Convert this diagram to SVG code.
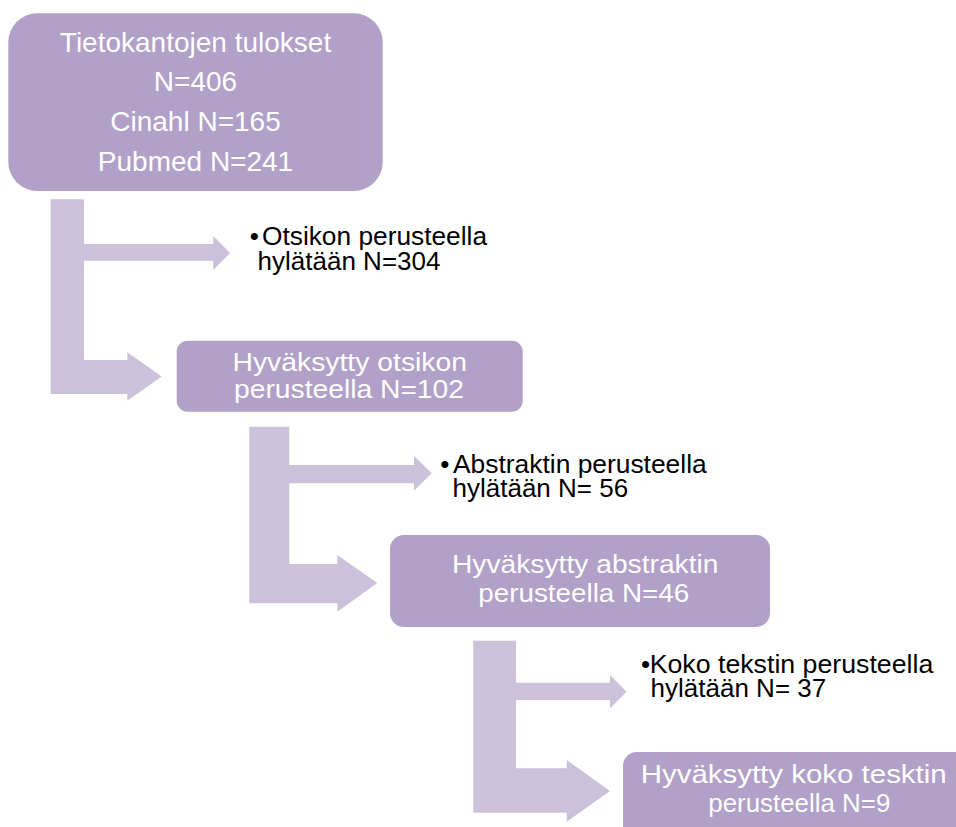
<svg xmlns="http://www.w3.org/2000/svg" width="956" height="827" viewBox="0 0 956 827">
<style>
.box{fill:#B1A0C7}
.arr{fill:#CCC1DA}
.bt{font-family:"Liberation Sans",Arial,sans-serif;fill:#FFFFFF;text-anchor:middle}
.bs{font-family:"Liberation Sans",Arial,sans-serif;fill:#FFFFFF;font-size:25px}
.lt{font-family:"Liberation Sans",Arial,sans-serif;fill:#000000;font-size:26px}
</style>
<rect width="956" height="827" fill="#FFFFFF"/>
<g id="connectors">
<path class="arr" d="M50.7,199.3 H84 V244 H213.3 V236 L230,253 L213.3,270 V260.7 H84 V360 H127.3 V352.3 L161.7,376.5 L127.3,400.7 V394 H50.7 Z"/>
<path class="arr" d="M249.3,426.7 H289.3 V465 H414 V456 L431.7,473.3 L414,490.7 V483.3 H289.3 V564 H337.3 V555 L377.3,583 L337.3,611.7 V603.3 H249.3 Z"/>
<path class="arr" d="M473.3,640.7 H516 V682.7 H610 V675 L626.7,691.7 L610,708.3 V700 H516 V768.3 H566.7 V760 L610,791 L566.7,821.7 V812.7 H473.3 Z"/>
</g>
<g id="node1">
<rect class="box" x="8.3" y="13.3" width="374.4" height="177.7" rx="29" ry="29"/>
<text class="bt" font-size="28" x="195.5" y="51.7">Tietokantojen tulokset</text>
<text class="bt" font-size="28" x="195.5" y="91.3">N=406</text>
<text class="bt" font-size="28" x="195.5" y="131">Cinahl N=165</text>
<text class="bt" font-size="28" x="195.5" y="170.7">Pubmed N=241</text>
</g>
<g id="node2">
<text class="lt"><tspan x="249.7" y="245">•</tspan><tspan x="262" y="245" textLength="225" lengthAdjust="spacingAndGlyphs">Otsikon perusteella</tspan><tspan x="257.6" y="270">hylätään N=304</tspan></text>
</g>
<g id="node3">
<rect class="box" x="176.7" y="340.7" width="346" height="71" rx="11" ry="11"/>
<text class="bs" x="232.5" y="370.7" textLength="234.5" lengthAdjust="spacingAndGlyphs">Hyväksytty otsikon</text>
<text class="bs" x="234" y="398.3" textLength="230" lengthAdjust="spacingAndGlyphs">perusteella N=102</text>
</g>
<g id="node4">
<text class="lt"><tspan x="440.2" y="472.7">•</tspan><tspan x="453" y="472.7" textLength="253.7" lengthAdjust="spacingAndGlyphs">Abstraktin perusteella</tspan><tspan x="452.5" y="496.7">hylätään N= 56</tspan></text>
</g>
<g id="node5">
<rect class="box" x="390" y="535" width="380" height="92" rx="14" ry="14"/>
<text class="bs" x="452" y="573.3" textLength="266.5" lengthAdjust="spacingAndGlyphs">Hyväksytty abstraktin</text>
<text class="bs" x="478.3" y="601.7" textLength="211" lengthAdjust="spacingAndGlyphs">perusteella N=46</text>
</g>
<g id="node6">
<text class="lt"><tspan x="641" y="673.3">•</tspan><tspan x="649.7" y="673.3" textLength="283.6" lengthAdjust="spacingAndGlyphs">Koko tekstin perusteella</tspan><tspan x="650.6" y="697.3">hylätään N= 37</tspan></text>
</g>
<g id="node7">
<rect class="box" x="623" y="752" width="380" height="92" rx="14" ry="14"/>
<text class="bs" x="640.7" y="783.3" textLength="306" lengthAdjust="spacingAndGlyphs">Hyväksytty koko tesktin</text>
<text class="bs" x="708.3" y="811.7" textLength="182" lengthAdjust="spacingAndGlyphs">perusteella N=9</text>
</g>
</svg>
